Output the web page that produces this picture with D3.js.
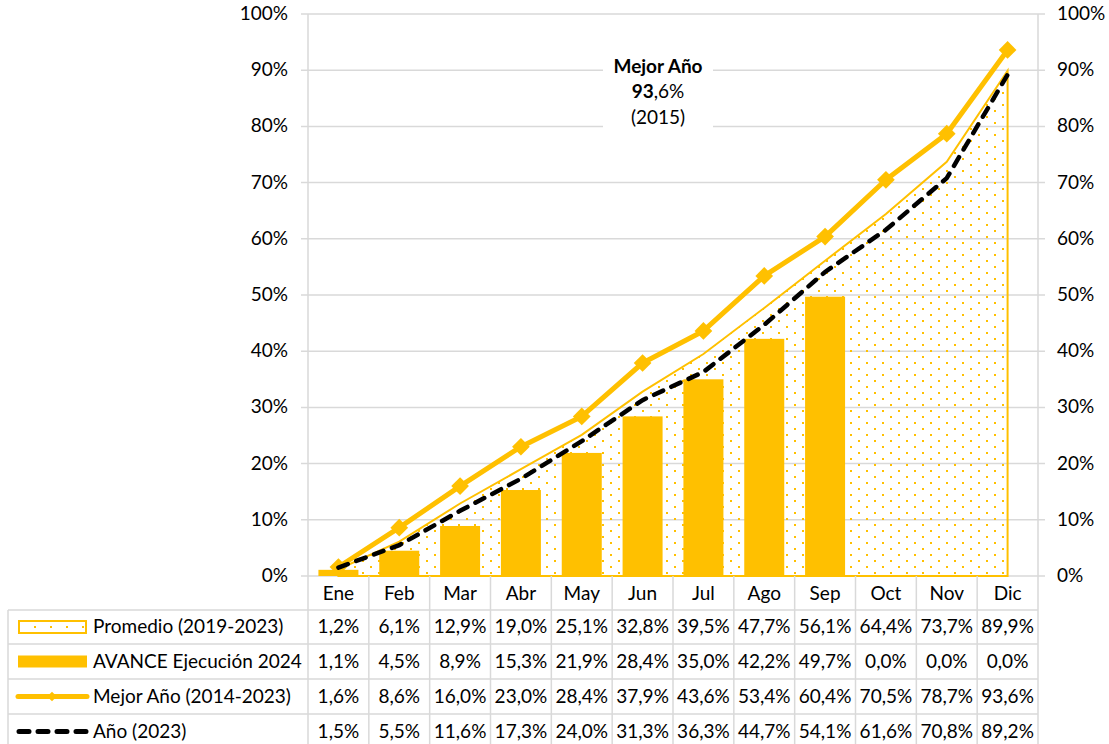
<!DOCTYPE html>
<html>
<head>
<meta charset="utf-8">
<script src="https://cdn.jsdelivr.net/npm/d3@7"></script>
<style>
  body { margin: 0; background: #fff; }
  text { font-family: Lato, "Open Sans", sans-serif; fill: #000; }
</style>
</head>
<body>
<div id="chart"></div>
<script>
// data
const months = ["Ene", "Feb", "Mar", "Abr", "May", "Jun", "Jul", "Ago", "Sep", "Oct", "Nov", "Dic"];
const promedio = [1.2, 6.1, 12.9, 19.0, 25.1, 32.8, 39.5, 47.7, 56.1, 64.4, 73.7, 89.9];
const avance2024 = [1.1, 4.5, 8.9, 15.3, 21.9, 28.4, 35.0, 42.2, 49.7, 0.0, 0.0, 0.0];
const mejorAnio = [1.6, 8.6, 16.0, 23.0, 28.4, 37.9, 43.6, 53.4, 60.4, 70.5, 78.7, 93.6];
const anio2023 = [1.5, 5.5, 11.6, 17.3, 24.0, 31.3, 36.3, 44.7, 54.1, 61.6, 70.8, 89.2];
const yTicks = [0, 10, 20, 30, 40, 50, 60, 70, 80, 90, 100];
const seriesNames = ["Promedio (2019-2023)", "AVANCE Ejecución 2024", "Mejor Año (2014-2023)", "Año (2023)"];

const W = 1109, H = 744;
const gold = "#FFC000", grid = "#d9d9d9";
const fs = "19px";
const fmt = v => v.toFixed(1).replace(".", ",") + "%";

const svg = d3.select("#chart").append("svg")
    .attr("width", W).attr("height", H);

const defs = svg.append("defs");
const pat = defs.append("pattern")
    .attr("id", "dots")
    .attr("patternUnits", "userSpaceOnUse")
    .attr("width", 16).attr("height", 12);
pat.append("rect").attr("x", 2).attr("y", 2).attr("width", 2).attr("height", 2).attr("fill", gold);
pat.append("rect").attr("x", 10).attr("y", 8).attr("width", 2).attr("height", 2).attr("fill", gold);

const x = d3.scaleBand().domain(months).range([308, 1038]);
const y = d3.scaleLinear().domain([0, 100]).range([576, 14]);
const cx = m => x(m) + x.bandwidth() / 2;

// gridlines
svg.append("g").selectAll("line")
    .data(yTicks)
    .enter().append("line")
    .attr("x1", 301).attr("x2", 1045)
    .attr("y1", d => y(d)).attr("y2", d => y(d))
    .attr("stroke", grid).attr("stroke-width", 1.5);

// plot edges
[308, 1038].forEach(px => {
    svg.append("line")
        .attr("x1", px).attr("x2", px)
        .attr("y1", y(100)).attr("y2", y(0))
        .attr("stroke", grid).attr("stroke-width", 1.5);
});

// axis labels
svg.append("g").selectAll("text")
    .data(yTicks)
    .enter().append("text")
    .attr("x", 288).attr("y", d => y(d) + 6)
    .attr("text-anchor", "end")
    .style("font-size", fs)
    .text(d => d + "%");
svg.append("g").selectAll("text")
    .data(yTicks)
    .enter().append("text")
    .attr("x", 1057).attr("y", d => y(d) + 6)
    .style("font-size", fs)
    .text(d => d + "%");

// annotation background box (cuts gridlines)
svg.append("rect")
    .attr("x", 603).attr("y", 48).attr("width", 110).attr("height", 84)
    .attr("fill", "#fff");

// promedio area
const areaPts = months.map((m, i) => [cx(m), y(promedio[i])]);
const areaPath = [[cx(months[0]), y(0)], ...areaPts, [cx(months[11]), y(0)]];
svg.append("path")
    .attr("d", d3.line()(areaPath) + "Z")
    .attr("fill", "url(#dots)")
    .attr("stroke", gold).attr("stroke-width", 2)
    .attr("stroke-linejoin", "miter");

// bars
svg.append("g").selectAll("rect")
    .data(avance2024)
    .enter().append("rect")
    .attr("x", (d, i) => cx(months[i]) - 20)
    .attr("width", 40)
    .attr("y", d => y(d))
    .attr("height", d => y(0) - y(d))
    .attr("fill", gold);

// mejor año line
const line = d3.line().x((d, i) => cx(months[i])).y(d => y(d));
svg.append("path")
    .attr("d", line(mejorAnio))
    .attr("fill", "none")
    .attr("stroke", gold).attr("stroke-width", 5)
    .attr("stroke-linejoin", "round");
svg.append("g").selectAll("path")
    .data(mejorAnio)
    .enter().append("path")
    .attr("d", d3.symbol().type(d3.symbolDiamond2).size(200))
    .attr("transform", (d, i) => `translate(${cx(months[i])},${y(d)})`)
    .attr("fill", gold);

// año 2023 dashed
svg.append("path")
    .attr("d", line(anio2023))
    .attr("fill", "none")
    .attr("stroke", "#000").attr("stroke-width", 4.5)
    .attr("stroke-dasharray", "10,9")
    .attr("stroke-linecap", "round");

// annotation
const ann = svg.append("text").attr("text-anchor", "middle").style("font-size", fs);
ann.append("tspan").attr("x", 658).attr("y", 73).style("font-weight", "bold").text("Mejor Año");
const l2 = ann.append("tspan").attr("x", 658).attr("y", 98);
l2.append("tspan").style("font-weight", "bold").text("93");
l2.append("tspan").text(",6%");
ann.append("tspan").attr("x", 658).attr("y", 124).text("(2015)");

// data table
const rowY = [576, 610, 644, 679, 714, 749];
const tbl = svg.append("g");
rowY.slice(1).forEach(ry => {
    tbl.append("line").attr("x1", 8).attr("x2", 1038)
        .attr("y1", ry).attr("y2", ry)
        .attr("stroke", grid).attr("stroke-width", 1.5);
});
const colEdges = months.map(m => x(m)).concat([x.range()[1]]);
colEdges.forEach(px => {
    tbl.append("line").attr("x1", px).attr("x2", px)
        .attr("y1", 576).attr("y2", H)
        .attr("stroke", grid).attr("stroke-width", 1.5);
});
tbl.append("line").attr("x1", 8).attr("x2", 8)
    .attr("y1", 610).attr("y2", H)
    .attr("stroke", grid).attr("stroke-width", 1.5);

// month header
tbl.append("g").selectAll("text")
    .data(months)
    .enter().append("text")
    .attr("x", d => cx(d)).attr("y", 600)
    .attr("text-anchor", "middle")
    .style("font-size", fs)
    .text(d => d);

const rows = [promedio, avance2024, mejorAnio, anio2023];
rows.forEach((vals, r) => {
    const ty = (rowY[r + 1] + rowY[r + 2]) / 2 + 6;
    tbl.append("g").selectAll("text")
        .data(vals)
        .enter().append("text")
        .attr("x", (d, i) => cx(months[i])).attr("y", ty)
        .attr("text-anchor", "middle")
        .style("font-size", fs)
        .text(d => fmt(d));
    tbl.append("text")
        .attr("x", 93).attr("y", ty)
        .style("font-size", fs)
        .text(seriesNames[r]);
});

// legend keys
const ky = r => (rowY[r + 1] + rowY[r + 2]) / 2;
tbl.append("rect").attr("x", 19).attr("y", ky(0) - 6).attr("width", 67).attr("height", 12)
    .attr("fill", "url(#dots)").attr("stroke", gold).attr("stroke-width", 2);
tbl.append("rect").attr("x", 18).attr("y", ky(1) - 6).attr("width", 69).attr("height", 12)
    .attr("fill", gold);
tbl.append("line").attr("x1", 18).attr("x2", 87).attr("y1", ky(2)).attr("y2", ky(2))
    .attr("stroke", gold).attr("stroke-width", 5).attr("stroke-linecap", "round");
tbl.append("path").attr("d", d3.symbol().type(d3.symbolDiamond2).size(60))
    .attr("transform", `translate(52,${ky(2)})`).attr("fill", gold);
tbl.append("line").attr("x1", 19).attr("x2", 86).attr("y1", ky(3)).attr("y2", ky(3))
    .attr("stroke", "#000").attr("stroke-width", 5).attr("stroke-linecap", "round")
    .attr("stroke-dasharray", "10,9");
</script>
</body>
</html>
